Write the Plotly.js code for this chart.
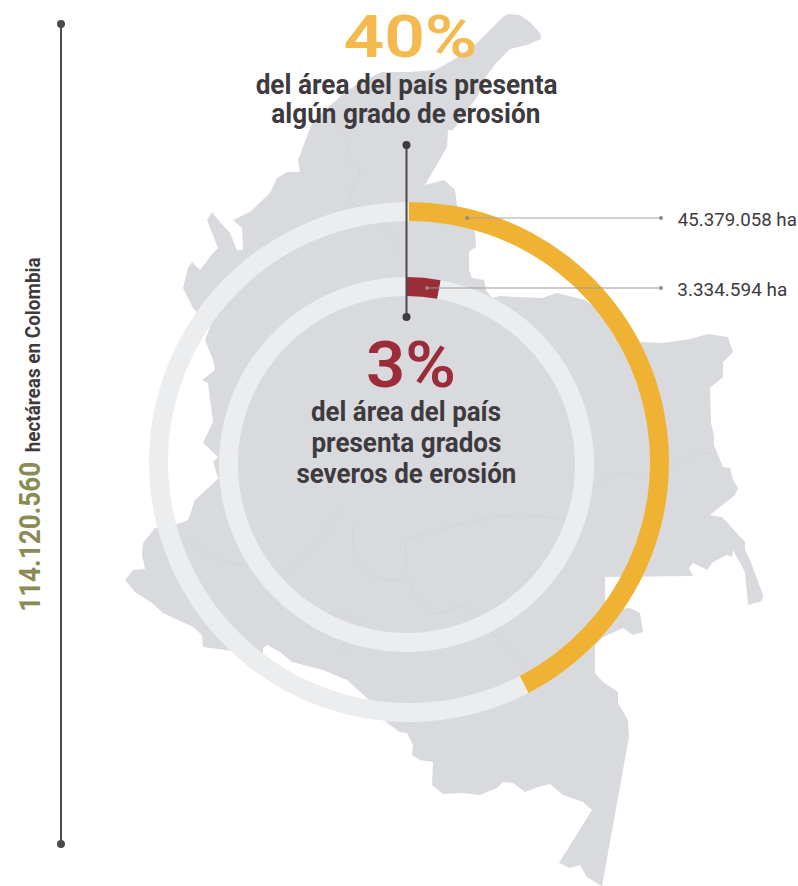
<!DOCTYPE html>
<html><head><meta charset="utf-8">
<script src="https://cdn.plot.ly/plotly-3.0.1.min.js"></script>
<style>html,body{margin:0;padding:0;background:#fff}#c{width:798px;height:886px}</style>
</head><body><div id="c"></div>
<script>
// Ring shares as drawn in the picture
const outerRingShares = [42.4, 57.6];
const innerRingShares = [3334594, 110785966];
const outerRingColors = ['#f0b233', '#ecedef'];
const innerRingColors = ['#9b2d39', '#ecedef'];
// Text
const totalValue = '114.120.560';
const totalUnit = 'hectáreas en Colombia';
const erosionPct = '40%';
const severePct = '3%';
const erosionLabel = '45.379.058 ha';
const severeLabel = '3.334.594 ha';
const erosionLines = ['del área del país presenta', 'algún grado de erosión'];
const severeLines = ['del área del país', 'presenta grados', 'severos de erosión'];
// Map silhouette
const mapX = [508,520,530,540,541,527,510,497,487,477,453,448,447,438,425,444,455,457,475,476,469,469,472,484,486,492,500,517,542,557,570,585,640,663,690,708,728,733,723,723,710,711,714,714,723,730,733,738,735,710,722,745,745,750,763,762,748,745,733,732,727,713,707,693,689,693,605,605,630,640,643,633,623,603,595,595,603,618,618,628,629,602,600,587,580,570,559,592,583,563,550,538,525,513,503,497,480,462,443,432,433,420,412,413,407,400,387,367,358,347,323,292,280,267,263,263,225,203,202,193,163,152,135,125,133,145,142,143,155,175,188,195,220,218,213,218,203,213,208,202,215,213,205,210,193,183,188,192,200,213,218,207,212,220,230,237,243,242,233,250,270,277,287,300,298,303,312,322,344,360,382,410,435,453,477,490,503];
const mapY = [14,15,22,33,39,45,49,62,75,97,130,130,147,163,185,180,190,205,232,247,252,270,278,280,290,298,296,297,298,293,296,300,342,343,339,334,337,352,362,377,388,423,435,445,467,468,480,488,495,515,517,542,550,560,595,601,605,572,550,557,555,562,570,563,568,576,577,610,608,613,632,635,628,637,645,673,682,692,703,720,737,886,885,877,865,868,863,810,802,795,784,787,792,783,782,788,795,793,794,785,762,760,755,745,733,732,723,698,690,680,670,662,652,645,648,655,650,647,635,627,613,603,592,580,570,569,555,543,528,525,520,500,477,478,462,457,443,422,383,380,370,360,340,327,308,288,268,262,270,253,248,220,212,222,233,250,250,228,220,212,193,178,172,172,160,147,123,113,93,82,72,72,70,60,43,30,17];
const borderA = {x:[595,620,647,677,693,717], y:[487,473,475,463,455,453]};
const borderB = {x:[405,479,523,566], y:[540,520,515,520]};
const borderC = {x:[353,357,377,403,405], y:[527,563,577,578,543]};
const borderD = {x:[340,317,287], y:[510,543,577]};
const borderE = {x:[408,432,466,501,523], y:[580,613,607,643,663]};
const borderF = {x:[190,222,262,300,320,360,340,345], y:[540,560,570,610,615,620,650,650]};
const borderG = {x:[322,345,352,360,350,375,400], y:[113,135,165,170,200,215,250]};

const ink = '#3e3a3d';
const F = 'Roboto, sans-serif';
const W = 798, H = 886;

function dom(cx, cy, r){ return {x:[(cx-r)/W,(cx+r)/W], y:[1-(cy+r)/H,1-(cy-r)/H]}; }
function ring(vals, colors, cx, cy, r, th){
  return {type:'pie', values:vals, sort:false, direction:'clockwise', rotation:0,
    domain:dom(cx,cy,r), hole:(r-th)/r, textinfo:'none', hoverinfo:'skip',
    marker:{colors:colors, line:{width:0}}};
}
const border = b => ({type:'scatter',mode:'lines',x:b.x,y:b.y,hoverinfo:'skip',
  line:{color:'#d4d5d9',width:1,shape:'spline'}});

const data = [
  {type:'scatter',mode:'lines',x:mapX.concat(mapX[0]),y:mapY.concat(mapY[0]),fill:'toself',
   fillcolor:'#d9dade',line:{width:0,color:'#d9dade'},hoverinfo:'skip'},
  border(borderA),border(borderB),border(borderC),border(borderD),border(borderE),border(borderF),border(borderG),
  ring(outerRingShares, outerRingColors, 409, 462, 260, 19),
  ring(innerRingShares, innerRingColors, 406.5, 464.5, 187.5, 19)
];

function ln(x0,y0,x1,y1,c,w){return {type:'line',xref:'x',yref:'y',x0,y0,x1,y1,line:{color:c,width:w},layer:'above'};}
function dot(x,y,r,c){return {type:'circle',xref:'x',yref:'y',x0:x-r,x1:x+r,y0:y-r,y1:y+r,fillcolor:c,line:{width:0},layer:'above'};}
const shapes = [
  ln(61,24,61,844,'#4a4a4c',2), dot(61,24,4,'#4a4a4c'), dot(61,844,4,'#4a4a4c'),
  ln(406.5,145,406.5,317,'#4a4a4c',2), dot(406.5,145,4,'#3e3a3d'), dot(406.5,317,4,'#3e3a3d'),
  ln(467,218,661,218,'#a3a3a3',1), dot(467,218,2,'#8c8c8c'), dot(661,218,2,'#8c8c8c'),
  ln(427,288,661,288,'#999999',1), dot(427,288,2,'#8c8c8c'), dot(661,288,2,'#8c8c8c')
];
function txt(t,x,y,size,color,weight,extra){
  return Object.assign({text:t,x,y,xref:'x',yref:'y',showarrow:false,xanchor:'center',yanchor:'middle',
    font:{family:F,size,color,weight}},extra||{});
}
const annotations = [
  txt(erosionPct,410,36,60,'#f4ba4f',600),
  txt(erosionLines[0],406,85,27,ink,700),
  txt(erosionLines[1],406,114,27,ink,700),
  txt(severePct,411,365,64,'#9d2c3a',600),
  txt(severeLines[0],406,412,27,ink,700),
  txt(severeLines[1],406,443,27,ink,700),
  txt(severeLines[2],406,474,27,ink,700),
  txt(erosionLabel,737,219,18,ink,400),
  txt(severeLabel,732,289,18,ink,400),
  txt(totalValue,29,537,30,'#8b8b55',700,{textangle:-90}),
  txt(totalUnit,33,355,20,ink,700,{textangle:-90})
];
// Widths the condensed lettering occupies in the picture, same order as annotations
const textWidths = [134,302,269,90,190,190,220,119,110,150,195];
const layout = {width:W,height:H,margin:{l:0,r:0,t:0,b:0},showlegend:false,
  paper_bgcolor:'#fff',plot_bgcolor:'#fff',
  xaxis:{range:[0,W],visible:false,fixedrange:true},
  yaxis:{range:[H,0],visible:false,fixedrange:true},
  shapes,annotations};
Plotly.newPlot('c',data,layout,{displayModeBar:false,staticPlot:true}).then(()=>{
  document.querySelectorAll('#c .annotation-text').forEach((el,i)=>{
    el.setAttribute('textLength',textWidths[i]);
    el.setAttribute('lengthAdjust','spacingAndGlyphs');
  });
});
</script></body></html>
